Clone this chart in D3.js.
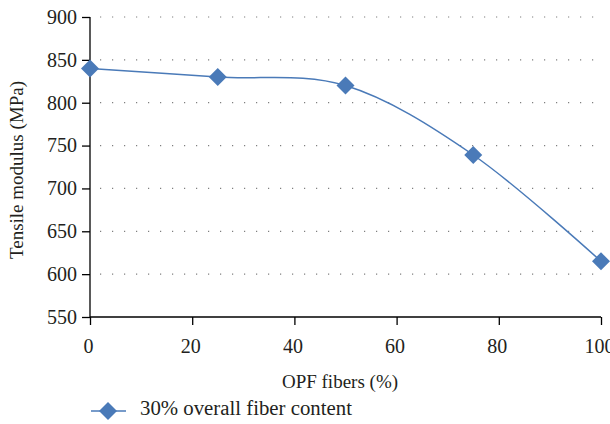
<!DOCTYPE html>
<html><head><meta charset="utf-8">
<script src="https://cdn.jsdelivr.net/npm/d3@7"></script>
<style>body{margin:0;background:#fff}svg{display:block}</style>
</head><body><svg id="c" width="610" height="424"></svg>
<script>
const xValues = [0, 25, 50, 75, 100];
const yValues = [840, 830, 820, 739, 615];
const seriesName = "30% overall fiber content";
const xTicks = [0, 20, 40, 60, 80, 100];
const yTicks = [550, 600, 650, 700, 750, 800, 850, 900];
const xTitle = "OPF fibers (%)";
const yTitle = "Tensile modulus (MPa)";

const FONT = "'Liberation Serif', 'Times New Roman', serif";
const svg = d3.select("#c");
const color = "#4a7ab8";
const x = d3.scaleLinear().domain([0, 100]).range([90, 601]);
const y = d3.scaleLinear().domain([550, 900]).range([317, 17]);

// grid
svg.append("g").selectAll("line").data(yTicks.slice(1)).join("line")
  .attr("x1", 100).attr("x2", 601).attr("y1", d => y(d)).attr("y2", d => y(d))
  .attr("stroke", "#7f7f7f").attr("stroke-width", 1.2).attr("stroke-dasharray", "1.2,10.8");

const yAxis = svg.append("g").attr("transform", "translate(90,0)")
  .call(d3.axisLeft(y).tickValues(yTicks).tickSize(8).tickPadding(5));
const xAxis = svg.append("g").attr("transform", "translate(0,317)")
  .call(d3.axisBottom(x).tickValues(xTicks).tickSize(8).tickPadding(14));
[yAxis, xAxis].forEach(a => {
  a.select(".domain").attr("stroke", "#000").attr("stroke-width", 1.3);
  a.selectAll(".tick line").attr("stroke", "#000").attr("stroke-width", 1.3);
  a.selectAll("text").style("font-size", "20px").style("fill", "#231f20")
    .style("font-family", FONT);
});
xAxis.selectAll(".tick text").attr("dx", -2);
xAxis.select(".domain").attr("d", "M90,0H601");
yAxis.select(".domain").attr("d", "M0,17V317");

// line
const line = d3.line().x((d, i) => x(xValues[i])).y(d => y(d)).curve(d3.curveCardinal.tension(0));
svg.append("path").datum(yValues).attr("d", line).attr("fill", "none")
  .attr("stroke", color).attr("stroke-width", 1.5);

const diamond = d3.symbol().type(d3.symbolSquare).size(162);
svg.append("g").selectAll("path").data(yValues).join("path")
  .attr("d", diamond())
  .attr("transform", (d, i) => `translate(${x(xValues[i])},${y(d)}) rotate(45)`)
  .attr("fill", color);

// titles
svg.append("text").attr("x", 340).attr("y", 388).attr("text-anchor", "middle")
  .style("font-size", "19px").style("font-family", FONT).style("fill", "#231f20").text(xTitle);
svg.append("text").attr("transform", "translate(23,170) rotate(-90)").attr("text-anchor", "middle")
  .style("font-size", "19px").style("font-family", FONT).style("fill", "#231f20").text(yTitle);

// legend
svg.append("line").attr("x1", 91).attr("x2", 126).attr("y1", 411).attr("y2", 411)
  .attr("stroke", color).attr("stroke-width", 1.5);
svg.append("path").attr("d", diamond()).attr("transform", "translate(108,411) rotate(45)").attr("fill", color);
svg.append("text").attr("x", 140).attr("y", 415)
  .style("font-size", "20.8px").style("font-family", FONT).style("fill", "#231f20").text(seriesName);
</script></body></html>
